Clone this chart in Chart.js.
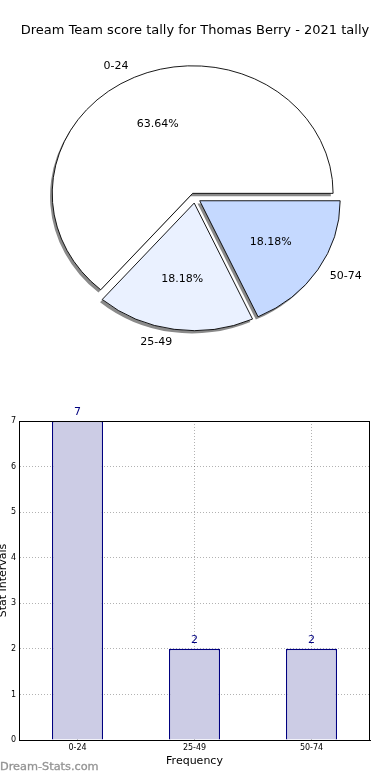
<!DOCTYPE html>
<html>
<head>
<meta charset="utf-8">
<script src="https://cdn.jsdelivr.net/npm/chart.js@4.4.1/dist/chart.umd.min.js"></script>
<style>
body { margin: 0; background: #fff; font-family: 'DejaVu Sans', sans-serif; }
#wrap { position: relative; width: 390px; height: 780px; overflow: hidden; }
#title { position: absolute; top: 22px; left: 0; width: 390px; text-align: center; font-size: 13px; line-height: 16px; color: #000; }
#pieChart { position: absolute; left: 0; top: 0; }
#barChart { position: absolute; left: 0; top: 390px; }
#mark { position: absolute; left: 0; top: 760px; font-size: 11.3px; color: #8f8f8f; -webkit-text-stroke: 0.35px #9a9a9a; }
</style>
</head>
<body>
<div id="wrap">
  <canvas id="pieChart" width="390" height="390"></canvas>
  <div id="title">Dream Team score tally for Thomas Berry - 2021 tally</div>
  <canvas id="barChart" width="390" height="390"></canvas>
  <div id="mark">Dream-Stats.com</div>
</div>
<script>
// data
const categories = ['0-24', '25-49', '50-74'];
const counts = [7, 2, 2];
const sliceColors = ['#ffffff', '#eaf1ff', '#c5d9ff'];
const explode = [0.04, 0.04, 0.04];
const yTicks = [0, 1, 2, 3, 4, 5, 6, 7];

const total = counts.reduce((a, b) => a + b, 0);

// chart.js goes clockwise, the original goes counter-clockwise, so reverse
const pieLabels = categories.slice().reverse();
const pieCounts = counts.slice().reverse();
const pieColors = sliceColors.slice().reverse();
const pieExplode = explode.slice().reverse();

// squash the circle a bit so it looks like the original ellipse
const SX = 1.048, SY = 0.952;

function pieCenter(chart) {
    const a = chart.chartArea;
    return [(a.left + a.right) / 2, (a.top + a.bottom) / 2];
}

const piePlugin = {
    id: 'piePlugin',
    afterUpdate(chart) {
        // explode: push each slice out along its middle angle
        chart.getDatasetMeta(0).data.forEach((a, i) => {
            const mid = (a.startAngle + a.endAngle) / 2;
            const d = pieExplode[i] * a.outerRadius;
            a.x += Math.cos(mid) * d;
            a.y += Math.sin(mid) * d;
        });
    },
    beforeDatasetsDraw(chart) {
        const ctx = chart.ctx;
        const arcs = chart.getDatasetMeta(0).data;
        const [cx, cy] = pieCenter(chart);
        ctx.save();
        ctx.translate(cx, cy);
        ctx.scale(SX, SY);
        ctx.translate(-cx, -cy);
        // shadow
        ctx.save();
        ctx.translate(-2.2 / SX, 2.8 / SY);
        ctx.fillStyle = '#8a8a8a';
        arcs.forEach(a => {
            ctx.beginPath();
            ctx.moveTo(a.x, a.y);
            ctx.arc(a.x, a.y, a.outerRadius, a.startAngle, a.endAngle);
            ctx.closePath();
            ctx.fill();
        });
        ctx.restore();
    },
    afterDatasetsDraw(chart) {
        const ctx = chart.ctx;
        ctx.restore();
        const arcs = chart.getDatasetMeta(0).data;
        const [cx, cy] = pieCenter(chart);
        ctx.save();
        ctx.font = '11px "DejaVu Sans"';
        ctx.fillStyle = '#000';
        ctx.textBaseline = 'middle';
        arcs.forEach((a, i) => {
            const mid = (a.startAngle + a.endAngle) / 2;
            const R = a.outerRadius;
            const pos = k => {
                const px = a.x + Math.cos(mid) * k * R;
                const py = a.y + Math.sin(mid) * k * R;
                return [cx + SX * (px - cx), cy + SY * (py - cy)];
            };
            const p1 = pos(0.6);
            ctx.textAlign = 'center';
            ctx.fillText((pieCounts[i] / total * 100).toFixed(2) + '%', p1[0], p1[1]);
            const p2 = pos(1.1);
            ctx.textAlign = Math.cos(mid) < 0 ? 'right' : 'left';
            ctx.fillText(pieLabels[i], p2[0], p2[1]);
        });
        ctx.restore();
    }
};

new Chart(document.getElementById('pieChart'), {
    type: 'pie',
    data: {
        labels: pieLabels,
        datasets: [{
            data: pieCounts,
            backgroundColor: pieColors,
            borderColor: '#000',
            borderWidth: 0.9,
            hoverOffset: 0,
            radius: 134
        }]
    },
    options: {
        responsive: false,
        animation: false,
        events: [],
        rotation: 90,
        layout: { padding: { left: 0, right: 0, top: 6, bottom: 0 } },
        plugins: {
            legend: { display: false },
            tooltip: { enabled: false }
        }
    },
    plugins: [piePlugin]
});

// Bar chart
const frame = {
    id: 'frame',
    afterDraw(chart) {
        const { ctx, chartArea: a } = chart;
        ctx.save();
        ctx.strokeStyle = '#000';
        ctx.lineWidth = 1;
        ctx.strokeRect(Math.round(a.left) + 0.5, Math.round(a.top) + 0.5,
            Math.round(a.right - a.left) - 1, Math.round(a.bottom - a.top));
        ctx.restore();
    },
    afterDatasetsDraw(chart) {
        const ctx = chart.ctx;
        ctx.save();
        ctx.font = '11px "DejaVu Sans"';
        ctx.fillStyle = '#00007f';
        ctx.textAlign = 'center';
        ctx.textBaseline = 'bottom';
        chart.getDatasetMeta(0).data.forEach((bar, i) => {
            ctx.fillText(counts[i], bar.x, bar.y - 3);
        });
        ctx.restore();
    }
};

new Chart(document.getElementById('barChart'), {
    type: 'bar',
    data: {
        labels: categories,
        datasets: [{
            data: counts,
            backgroundColor: '#ccccE5',
            borderColor: '#000080',
            borderWidth: 1.3,
            barPercentage: 51 / 117,
            categoryPercentage: 1
        }]
    },
    options: {
        responsive: false,
        animation: false,
        events: [],
        layout: { padding: { top: 31, right: 20, left: 0, bottom: 0 } },
        plugins: {
            legend: { display: false },
            tooltip: { enabled: false }
        },
        scales: {
            x: {
                z: 1,
                grid: { offset: false, color: 'rgba(0,0,0,0.3)', drawTicks: false },
                border: { color: '#000', dash: [1, 2] },
                ticks: { font: { size: 8, family: 'DejaVu Sans' }, color: '#000', padding: 3 },
                title: {
                    display: true, text: 'Frequency', color: '#000',
                    font: { size: 11, family: 'DejaVu Sans' }, padding: { top: 0, bottom: 12 }
                },
                afterFit(scale) { scale.height = 40; }
            },
            y: {
                z: 1,
                min: 0,
                max: 7,
                afterBuildTicks(scale) { scale.ticks = yTicks.map(v => ({ value: v })); },
                grid: { color: 'rgba(0,0,0,0.3)', drawTicks: false },
                border: { color: '#000', dash: [1, 2] },
                ticks: { font: { size: 8, family: 'DejaVu Sans' }, color: '#000', padding: 3 },
                title: {
                    display: true, text: 'Stat Intervals', color: '#000',
                    font: { size: 11, family: 'DejaVu Sans' }, padding: { top: -3, bottom: 0 }
                },
                afterFit(scale) { scale.width = 19; }
            }
        }
    },
    plugins: [frame]
});
</script>
</body>
</html>
